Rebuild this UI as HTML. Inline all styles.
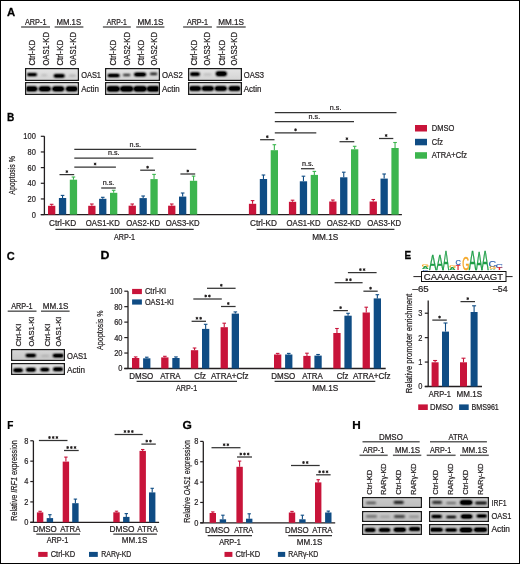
<!DOCTYPE html>
<html><head><meta charset="utf-8"><style>
html,body{margin:0;padding:0;background:#fff;}
svg{display:block;will-change:transform;}
text{font-family:"Liberation Sans",sans-serif;stroke:#231f20;stroke-width:0.22px;}
</style></head><body>
<svg width="520" height="564" viewBox="0 0 520 564">
<defs>
<filter id="bl" x="-50%" y="-100%" width="200%" height="300%"><feGaussianBlur stdDeviation="0.8"/><feComponentTransfer><feFuncA type="linear" slope="1.35"/></feComponentTransfer></filter>
<filter id="bl2" x="-50%" y="-100%" width="200%" height="300%"><feGaussianBlur stdDeviation="0.95"/><feComponentTransfer><feFuncA type="linear" slope="1.6"/></feComponentTransfer></filter>
<linearGradient id="gA" x1="0" y1="0" x2="0" y2="1"><stop offset="0" stop-color="#e4e4e4"/><stop offset="0.5" stop-color="#dcdcdc"/><stop offset="1" stop-color="#d2d2d2"/></linearGradient>
<linearGradient id="gC" x1="0" y1="0" x2="0" y2="1"><stop offset="0" stop-color="#d8d8d8"/><stop offset="0.5" stop-color="#cdcdcd"/><stop offset="1" stop-color="#c6c6c6"/></linearGradient>
<linearGradient id="gH" x1="0" y1="0" x2="0" y2="1"><stop offset="0" stop-color="#cbcbcb"/><stop offset="0.5" stop-color="#c3c3c3"/><stop offset="1" stop-color="#bdbdbd"/></linearGradient>
</defs>
<rect width="520" height="564" fill="#fff"/>
<text transform="translate(7.02,15.50) scale(0.985,1)" font-size="11.5" font-weight="bold" fill="#000" style="stroke:#000;stroke-width:0.25px">A</text>
<text x="24.9" y="24.8" font-size="8.2" textLength="21.6" lengthAdjust="spacingAndGlyphs" fill="#231f20" >ARP-1</text>
<line x1="21.1" y1="27" x2="50" y2="27" stroke="#5e5e5e" stroke-width="1.5" />
<text x="56.5" y="24.8" font-size="8.2" textLength="24.6" lengthAdjust="spacingAndGlyphs" fill="#231f20" >MM.1S</text>
<line x1="54.6" y1="27" x2="83.4" y2="27" stroke="#5e5e5e" stroke-width="1.5" />
<text x="106.7" y="24.8" font-size="8.2" textLength="20.2" lengthAdjust="spacingAndGlyphs" fill="#231f20" >ARP-1</text>
<line x1="102.9" y1="27" x2="130.8" y2="27" stroke="#5e5e5e" stroke-width="1.5" />
<text x="137.5" y="24.8" font-size="8.2" textLength="26" lengthAdjust="spacingAndGlyphs" fill="#231f20" >MM.1S</text>
<line x1="136.2" y1="27" x2="164.4" y2="27" stroke="#5e5e5e" stroke-width="1.5" />
<text x="186.9" y="24.8" font-size="8.2" textLength="21.1" lengthAdjust="spacingAndGlyphs" fill="#231f20" >ARP-1</text>
<line x1="183.1" y1="27" x2="211.9" y2="27" stroke="#5e5e5e" stroke-width="1.5" />
<text x="218.2" y="24.8" font-size="8.2" textLength="25.8" lengthAdjust="spacingAndGlyphs" fill="#231f20" >MM.1S</text>
<line x1="216.5" y1="27" x2="245.7" y2="27" stroke="#5e5e5e" stroke-width="1.5" />
<text transform="translate(35.2,65.6) rotate(-90)" font-size="8.5" textLength="25.7" lengthAdjust="spacingAndGlyphs" fill="#231f20" >Ctrl-KD</text>
<text transform="translate(48.7,65.6) rotate(-90)" font-size="8.5" textLength="33.6" lengthAdjust="spacingAndGlyphs" fill="#231f20" >OAS1-KD</text>
<text transform="translate(62.9,65.6) rotate(-90)" font-size="8.5" textLength="25.7" lengthAdjust="spacingAndGlyphs" fill="#231f20" >Ctrl-KD</text>
<text transform="translate(76.1,65.6) rotate(-90)" font-size="8.5" textLength="33.6" lengthAdjust="spacingAndGlyphs" fill="#231f20" >OAS1-KD</text>
<text transform="translate(116.2,65.6) rotate(-90)" font-size="8.5" textLength="25.7" lengthAdjust="spacingAndGlyphs" fill="#231f20" >Ctrl-KD</text>
<text transform="translate(129.6,65.6) rotate(-90)" font-size="8.5" textLength="33.6" lengthAdjust="spacingAndGlyphs" fill="#231f20" >OAS2-KD</text>
<text transform="translate(144.3,65.6) rotate(-90)" font-size="8.5" textLength="25.7" lengthAdjust="spacingAndGlyphs" fill="#231f20" >Ctrl-KD</text>
<text transform="translate(156.9,65.6) rotate(-90)" font-size="8.5" textLength="33.6" lengthAdjust="spacingAndGlyphs" fill="#231f20" >OAS2-KD</text>
<text transform="translate(196.8,65.6) rotate(-90)" font-size="8.5" textLength="25.7" lengthAdjust="spacingAndGlyphs" fill="#231f20" >Ctrl-KD</text>
<text transform="translate(210,65.6) rotate(-90)" font-size="8.5" textLength="33.6" lengthAdjust="spacingAndGlyphs" fill="#231f20" >OAS3-KD</text>
<text transform="translate(224.9,65.6) rotate(-90)" font-size="8.5" textLength="25.7" lengthAdjust="spacingAndGlyphs" fill="#231f20" >Ctrl-KD</text>
<text transform="translate(237,65.6) rotate(-90)" font-size="8.5" textLength="33.6" lengthAdjust="spacingAndGlyphs" fill="#231f20" >OAS3-KD</text>
<clipPath id="c25"><rect x="25" y="68" width="54" height="13"/></clipPath>
<rect x="25" y="68" width="54" height="13" fill="url(#gA)"/>
<g clip-path="url(#c25)">
<rect x="27" y="73.3" width="10" height="2.6" rx="1.3" ry="1.3" fill="#000" fill-opacity="1.0" filter="url(#bl)"/>
<rect x="41.2" y="74.4" width="6" height="1.6" rx="0.8" ry="0.8" fill="#000" fill-opacity="0.15" filter="url(#bl)"/>
<rect x="53.7" y="74.2" width="11" height="3.2" rx="1.6" ry="1.6" fill="#000" fill-opacity="1.0" filter="url(#bl)"/>
<rect x="68.9" y="74.7" width="7" height="1.8" rx="0.9" ry="0.9" fill="#000" fill-opacity="0.18" filter="url(#bl)"/>
</g>
<rect x="26.65" y="69.65" width="50.7" height="9.7" fill="none" stroke="#fff" stroke-opacity="0.55" stroke-width="0.8"/>
<rect x="25.62" y="68.62" width="52.75" height="11.75" fill="none" stroke="#1a1a1a" stroke-width="1.25"/>
<clipPath id="c35"><rect x="25" y="82" width="54" height="13"/></clipPath>
<rect x="25" y="82" width="54" height="13" fill="url(#gA)"/>
<g clip-path="url(#c35)">
<rect x="25.4" y="86.5" width="12" height="4.8" rx="2.4" ry="2.4" fill="#000" fill-opacity="1.0" filter="url(#bl)"/>
<rect x="38.8" y="86.5" width="12" height="4.8" rx="2.4" ry="2.4" fill="#000" fill-opacity="1.0" filter="url(#bl)"/>
<rect x="52.2" y="86.5" width="12" height="4.8" rx="2.4" ry="2.4" fill="#000" fill-opacity="1.0" filter="url(#bl)"/>
<rect x="65.8" y="86.5" width="12" height="4.8" rx="2.4" ry="2.4" fill="#000" fill-opacity="1.0" filter="url(#bl)"/>
</g>
<rect x="26.65" y="83.65" width="50.7" height="9.7" fill="none" stroke="#fff" stroke-opacity="0.55" stroke-width="0.8"/>
<rect x="25.62" y="82.62" width="52.75" height="11.75" fill="none" stroke="#1a1a1a" stroke-width="1.25"/>
<text x="81.2" y="77.9" font-size="8.5" textLength="19.8" lengthAdjust="spacingAndGlyphs" fill="#231f20" >OAS1</text>
<text x="81.3" y="91.6" font-size="8.5" textLength="17.7" lengthAdjust="spacingAndGlyphs" fill="#231f20" >Actin</text>
<clipPath id="c47"><rect x="105" y="68" width="55" height="13"/></clipPath>
<rect x="105" y="68" width="55" height="13" fill="url(#gA)"/>
<g clip-path="url(#c47)">
<rect x="107.6" y="73.9" width="12" height="3" rx="1.5" ry="1.5" fill="#000" fill-opacity="1.0" filter="url(#bl)"/>
<rect x="123" y="73.9" width="7.4" height="2" rx="1" ry="1" fill="#000" fill-opacity="0.7" filter="url(#bl)"/>
<rect x="134.1" y="72.7" width="12" height="3.6" rx="1.8" ry="1.8" fill="#000" fill-opacity="1.0" filter="url(#bl)"/>
<rect x="149.9" y="72.8" width="7.4" height="2.2" rx="1.1" ry="1.1" fill="#000" fill-opacity="0.75" filter="url(#bl)"/>
</g>
<rect x="106.65" y="69.65" width="51.7" height="9.7" fill="none" stroke="#fff" stroke-opacity="0.55" stroke-width="0.8"/>
<rect x="105.62" y="68.62" width="53.75" height="11.75" fill="none" stroke="#1a1a1a" stroke-width="1.25"/>
<clipPath id="c57"><rect x="105" y="82" width="55" height="13"/></clipPath>
<rect x="105" y="82" width="55" height="13" fill="url(#gA)"/>
<g clip-path="url(#c57)">
<rect x="106.7" y="86.2" width="13" height="5.2" rx="2.6" ry="2.6" fill="#000" fill-opacity="1.0" filter="url(#bl)"/>
<rect x="120.2" y="86.2" width="13" height="5.2" rx="2.6" ry="2.6" fill="#000" fill-opacity="1.0" filter="url(#bl)"/>
<rect x="133.6" y="86.2" width="13" height="5.2" rx="2.6" ry="2.6" fill="#000" fill-opacity="1.0" filter="url(#bl)"/>
<rect x="146.9" y="86.2" width="13" height="5.2" rx="2.6" ry="2.6" fill="#000" fill-opacity="1.0" filter="url(#bl)"/>
</g>
<rect x="106.65" y="83.65" width="51.7" height="9.7" fill="none" stroke="#fff" stroke-opacity="0.55" stroke-width="0.8"/>
<rect x="105.62" y="82.62" width="53.75" height="11.75" fill="none" stroke="#1a1a1a" stroke-width="1.25"/>
<text x="162" y="77.9" font-size="8.5" textLength="20.7" lengthAdjust="spacingAndGlyphs" fill="#231f20" >OAS2</text>
<text x="162" y="91.6" font-size="8.5" textLength="17.7" lengthAdjust="spacingAndGlyphs" fill="#231f20" >Actin</text>
<clipPath id="c69"><rect x="188" y="68" width="54" height="13"/></clipPath>
<rect x="188" y="68" width="54" height="13" fill="url(#gA)"/>
<g clip-path="url(#c69)">
<rect x="189.9" y="72.4" width="10" height="3.4" rx="1.7" ry="1.7" fill="#000" fill-opacity="1.0" filter="url(#bl)"/>
<rect x="203.5" y="73.5" width="8" height="2" rx="1" ry="1" fill="#000" fill-opacity="0.12" filter="url(#bl)"/>
<rect x="215.8" y="71.5" width="11" height="4.4" rx="2.2" ry="2.2" fill="#000" fill-opacity="1.0" filter="url(#bl)"/>
</g>
<rect x="189.65" y="69.65" width="50.7" height="9.7" fill="none" stroke="#fff" stroke-opacity="0.55" stroke-width="0.8"/>
<rect x="188.62" y="68.62" width="52.75" height="11.75" fill="none" stroke="#1a1a1a" stroke-width="1.25"/>
<clipPath id="c78"><rect x="188" y="82" width="54" height="13"/></clipPath>
<rect x="188" y="82" width="54" height="13" fill="url(#gA)"/>
<g clip-path="url(#c78)">
<rect x="189" y="86.3" width="12" height="4.4" rx="2.2" ry="2.2" fill="#000" fill-opacity="1.0" filter="url(#bl)"/>
<rect x="201.8" y="86.3" width="12" height="4.4" rx="2.2" ry="2.2" fill="#000" fill-opacity="1.0" filter="url(#bl)"/>
<rect x="214.8" y="86.3" width="12" height="4.4" rx="2.2" ry="2.2" fill="#000" fill-opacity="1.0" filter="url(#bl)"/>
<rect x="228.6" y="86.3" width="12" height="4.4" rx="2.2" ry="2.2" fill="#000" fill-opacity="1.0" filter="url(#bl)"/>
</g>
<rect x="189.65" y="83.65" width="50.7" height="9.7" fill="none" stroke="#fff" stroke-opacity="0.55" stroke-width="0.8"/>
<rect x="188.62" y="82.62" width="52.75" height="11.75" fill="none" stroke="#1a1a1a" stroke-width="1.25"/>
<text x="243.8" y="77.9" font-size="8.5" textLength="20.3" lengthAdjust="spacingAndGlyphs" fill="#231f20" >OAS3</text>
<text x="243.8" y="91.6" font-size="8.5" textLength="17.7" lengthAdjust="spacingAndGlyphs" fill="#231f20" >Actin</text>
<text transform="translate(7.02,120.90) scale(0.884,1)" font-size="11.5" font-weight="bold" fill="#000" style="stroke:#000;stroke-width:0.25px">B</text>
<line x1="44.4" y1="136.2" x2="44.4" y2="214.6" stroke="#231f20" stroke-width="1.3" />
<line x1="40.8" y1="214.6" x2="401.9" y2="214.6" stroke="#231f20" stroke-width="1.3" />
<line x1="40.8" y1="214.6" x2="44.4" y2="214.6" stroke="#231f20" stroke-width="1.2" />
<text x="35.8" y="217.55" font-size="8.7" text-anchor="end" textLength="4.15" lengthAdjust="spacingAndGlyphs" fill="#231f20" >0</text>
<line x1="40.8" y1="198.94" x2="44.4" y2="198.94" stroke="#231f20" stroke-width="1.2" />
<text x="35.8" y="201.89" font-size="8.7" text-anchor="end" textLength="8.3" lengthAdjust="spacingAndGlyphs" fill="#231f20" >20</text>
<line x1="40.8" y1="183.28" x2="44.4" y2="183.28" stroke="#231f20" stroke-width="1.2" />
<text x="35.8" y="186.23" font-size="8.7" text-anchor="end" textLength="8.3" lengthAdjust="spacingAndGlyphs" fill="#231f20" >40</text>
<line x1="40.8" y1="167.62" x2="44.4" y2="167.62" stroke="#231f20" stroke-width="1.2" />
<text x="35.8" y="170.57" font-size="8.7" text-anchor="end" textLength="8.3" lengthAdjust="spacingAndGlyphs" fill="#231f20" >60</text>
<line x1="40.8" y1="151.96" x2="44.4" y2="151.96" stroke="#231f20" stroke-width="1.2" />
<text x="35.8" y="154.91" font-size="8.7" text-anchor="end" textLength="8.3" lengthAdjust="spacingAndGlyphs" fill="#231f20" >80</text>
<line x1="40.8" y1="136.3" x2="44.4" y2="136.3" stroke="#231f20" stroke-width="1.2" />
<text x="35.8" y="139.25" font-size="8.7" text-anchor="end" textLength="12.45" lengthAdjust="spacingAndGlyphs" fill="#231f20" >100</text>
<text transform="translate(14.85,194.7) rotate(-90)" font-size="9.6" textLength="38.5" lengthAdjust="spacingAndGlyphs" fill="#231f20" >Apoptosis %</text>
<rect x="48" y="205.8" width="7.3" height="8.8" fill="#c8143a" />
<line x1="51.65" y1="204.3" x2="51.65" y2="205.8" stroke="#c8143a" stroke-width="1.1" />
<line x1="49.85" y1="204.3" x2="53.45" y2="204.3" stroke="#c8143a" stroke-width="1.1" />
<rect x="58.9" y="198" width="7.3" height="16.6" fill="#0f4c84" />
<line x1="62.55" y1="195.4" x2="62.55" y2="198" stroke="#0f4c84" stroke-width="1.1" />
<line x1="60.75" y1="195.4" x2="64.35" y2="195.4" stroke="#0f4c84" stroke-width="1.1" />
<rect x="69.8" y="179.7" width="7.3" height="34.9" fill="#3cb54e" />
<line x1="73.45" y1="177" x2="73.45" y2="179.7" stroke="#3cb54e" stroke-width="1.1" />
<line x1="71.65" y1="177" x2="75.25" y2="177" stroke="#3cb54e" stroke-width="1.1" />
<rect x="88.2" y="205.8" width="7.3" height="8.8" fill="#c8143a" />
<line x1="91.85" y1="204" x2="91.85" y2="205.8" stroke="#c8143a" stroke-width="1.1" />
<line x1="90.05" y1="204" x2="93.65" y2="204" stroke="#c8143a" stroke-width="1.1" />
<rect x="99.1" y="198.8" width="7.3" height="15.8" fill="#0f4c84" />
<line x1="102.75" y1="197.3" x2="102.75" y2="198.8" stroke="#0f4c84" stroke-width="1.1" />
<line x1="100.95" y1="197.3" x2="104.55" y2="197.3" stroke="#0f4c84" stroke-width="1.1" />
<rect x="110" y="192.8" width="7.3" height="21.8" fill="#3cb54e" />
<line x1="113.65" y1="190.3" x2="113.65" y2="192.8" stroke="#3cb54e" stroke-width="1.1" />
<line x1="111.85" y1="190.3" x2="115.45" y2="190.3" stroke="#3cb54e" stroke-width="1.1" />
<rect x="128.6" y="205.7" width="7.3" height="8.9" fill="#c8143a" />
<line x1="132.25" y1="204" x2="132.25" y2="205.7" stroke="#c8143a" stroke-width="1.1" />
<line x1="130.45" y1="204" x2="134.05" y2="204" stroke="#c8143a" stroke-width="1.1" />
<rect x="139.5" y="198.1" width="7.3" height="16.5" fill="#0f4c84" />
<line x1="143.15" y1="196" x2="143.15" y2="198.1" stroke="#0f4c84" stroke-width="1.1" />
<line x1="141.35" y1="196" x2="144.95" y2="196" stroke="#0f4c84" stroke-width="1.1" />
<rect x="150.4" y="179.1" width="7.3" height="35.5" fill="#3cb54e" />
<line x1="154.05" y1="174.4" x2="154.05" y2="179.1" stroke="#3cb54e" stroke-width="1.1" />
<line x1="152.25" y1="174.4" x2="155.85" y2="174.4" stroke="#3cb54e" stroke-width="1.1" />
<rect x="168.1" y="205.7" width="7.3" height="8.9" fill="#c8143a" />
<line x1="171.75" y1="204" x2="171.75" y2="205.7" stroke="#c8143a" stroke-width="1.1" />
<line x1="169.95" y1="204" x2="173.55" y2="204" stroke="#c8143a" stroke-width="1.1" />
<rect x="179" y="196.6" width="7.3" height="18" fill="#0f4c84" />
<line x1="182.65" y1="193" x2="182.65" y2="196.6" stroke="#0f4c84" stroke-width="1.1" />
<line x1="180.85" y1="193" x2="184.45" y2="193" stroke="#0f4c84" stroke-width="1.1" />
<rect x="189.9" y="180.8" width="7.3" height="33.8" fill="#3cb54e" />
<line x1="193.55" y1="176.1" x2="193.55" y2="180.8" stroke="#3cb54e" stroke-width="1.1" />
<line x1="191.75" y1="176.1" x2="195.35" y2="176.1" stroke="#3cb54e" stroke-width="1.1" />
<rect x="248.9" y="203.8" width="7.3" height="10.8" fill="#c8143a" />
<line x1="252.55" y1="200.6" x2="252.55" y2="203.8" stroke="#c8143a" stroke-width="1.1" />
<line x1="250.75" y1="200.6" x2="254.35" y2="200.6" stroke="#c8143a" stroke-width="1.1" />
<rect x="259.8" y="179" width="7.3" height="35.6" fill="#0f4c84" />
<line x1="263.45" y1="175" x2="263.45" y2="179" stroke="#0f4c84" stroke-width="1.1" />
<line x1="261.65" y1="175" x2="265.25" y2="175" stroke="#0f4c84" stroke-width="1.1" />
<rect x="270.7" y="150.2" width="7.3" height="64.4" fill="#3cb54e" />
<line x1="274.35" y1="144.7" x2="274.35" y2="150.2" stroke="#3cb54e" stroke-width="1.1" />
<line x1="272.55" y1="144.7" x2="276.15" y2="144.7" stroke="#3cb54e" stroke-width="1.1" />
<rect x="288.9" y="201.8" width="7.3" height="12.8" fill="#c8143a" />
<line x1="292.55" y1="200.2" x2="292.55" y2="201.8" stroke="#c8143a" stroke-width="1.1" />
<line x1="290.75" y1="200.2" x2="294.35" y2="200.2" stroke="#c8143a" stroke-width="1.1" />
<rect x="299.8" y="181.3" width="7.3" height="33.3" fill="#0f4c84" />
<line x1="303.45" y1="176.2" x2="303.45" y2="181.3" stroke="#0f4c84" stroke-width="1.1" />
<line x1="301.65" y1="176.2" x2="305.25" y2="176.2" stroke="#0f4c84" stroke-width="1.1" />
<rect x="310.7" y="174.9" width="7.3" height="39.7" fill="#3cb54e" />
<line x1="314.35" y1="171.4" x2="314.35" y2="174.9" stroke="#3cb54e" stroke-width="1.1" />
<line x1="312.55" y1="171.4" x2="316.15" y2="171.4" stroke="#3cb54e" stroke-width="1.1" />
<rect x="329.2" y="201.5" width="7.3" height="13.1" fill="#c8143a" />
<line x1="332.85" y1="200" x2="332.85" y2="201.5" stroke="#c8143a" stroke-width="1.1" />
<line x1="331.05" y1="200" x2="334.65" y2="200" stroke="#c8143a" stroke-width="1.1" />
<rect x="340.1" y="177.3" width="7.3" height="37.3" fill="#0f4c84" />
<line x1="343.75" y1="172.2" x2="343.75" y2="177.3" stroke="#0f4c84" stroke-width="1.1" />
<line x1="341.95" y1="172.2" x2="345.55" y2="172.2" stroke="#0f4c84" stroke-width="1.1" />
<rect x="351" y="149.3" width="7.3" height="65.3" fill="#3cb54e" />
<line x1="354.65" y1="146.3" x2="354.65" y2="149.3" stroke="#3cb54e" stroke-width="1.1" />
<line x1="352.85" y1="146.3" x2="356.45" y2="146.3" stroke="#3cb54e" stroke-width="1.1" />
<rect x="369.6" y="201.5" width="7.3" height="13.1" fill="#c8143a" />
<line x1="373.25" y1="199.5" x2="373.25" y2="201.5" stroke="#c8143a" stroke-width="1.1" />
<line x1="371.45" y1="199.5" x2="375.05" y2="199.5" stroke="#c8143a" stroke-width="1.1" />
<rect x="380.5" y="178.6" width="7.3" height="36" fill="#0f4c84" />
<line x1="384.15" y1="174" x2="384.15" y2="178.6" stroke="#0f4c84" stroke-width="1.1" />
<line x1="382.35" y1="174" x2="385.95" y2="174" stroke="#0f4c84" stroke-width="1.1" />
<rect x="391.4" y="148" width="7.3" height="66.6" fill="#3cb54e" />
<line x1="395.05" y1="142.5" x2="395.05" y2="148" stroke="#3cb54e" stroke-width="1.1" />
<line x1="393.25" y1="142.5" x2="396.85" y2="142.5" stroke="#3cb54e" stroke-width="1.1" />
<text x="62.6" y="225.9" font-size="8.4" text-anchor="middle" textLength="27" lengthAdjust="spacingAndGlyphs" fill="#231f20" >Ctrl-KD</text>
<text x="102.8" y="225.9" font-size="8.4" text-anchor="middle" textLength="34" lengthAdjust="spacingAndGlyphs" fill="#231f20" >OAS1-KD</text>
<text x="143.2" y="225.9" font-size="8.4" text-anchor="middle" textLength="34" lengthAdjust="spacingAndGlyphs" fill="#231f20" >OAS2-KD</text>
<text x="182.7" y="225.9" font-size="8.4" text-anchor="middle" textLength="34" lengthAdjust="spacingAndGlyphs" fill="#231f20" >OAS3-KD</text>
<text x="263.5" y="225.9" font-size="8.4" text-anchor="middle" textLength="27" lengthAdjust="spacingAndGlyphs" fill="#231f20" >Ctrl-KD</text>
<text x="303.5" y="225.9" font-size="8.4" text-anchor="middle" textLength="34" lengthAdjust="spacingAndGlyphs" fill="#231f20" >OAS1-KD</text>
<text x="343.8" y="225.9" font-size="8.4" text-anchor="middle" textLength="34" lengthAdjust="spacingAndGlyphs" fill="#231f20" >OAS2-KD</text>
<text x="384.2" y="225.9" font-size="8.4" text-anchor="middle" textLength="34" lengthAdjust="spacingAndGlyphs" fill="#231f20" >OAS3-KD</text>
<line x1="55.4" y1="229.3" x2="193.7" y2="229.3" stroke="#333" stroke-width="1.25" />
<line x1="256.6" y1="229.3" x2="394.4" y2="229.3" stroke="#333" stroke-width="1.25" />
<text x="124.5" y="239.8" font-size="8.5" text-anchor="middle" textLength="21.2" lengthAdjust="spacingAndGlyphs" fill="#231f20" >ARP-1</text>
<text x="325.2" y="239.8" font-size="8.5" text-anchor="middle" textLength="26" lengthAdjust="spacingAndGlyphs" fill="#231f20" >MM.1S</text>
<line x1="59.5" y1="174.6" x2="74.2" y2="174.6" stroke="#333" stroke-width="1.25" />
<circle cx="66.85" cy="171.6" r="0.95" fill="#231f20"/><path d="M66.85 170.15L66.85 173.05M68.11 170.88L65.59 172.32M68.11 172.32L65.59 170.88" stroke="#231f20" stroke-width="0.8" fill="none"/>
<line x1="74.3" y1="167" x2="115.9" y2="167" stroke="#333" stroke-width="1.25" />
<circle cx="95.1" cy="164" r="0.95" fill="#231f20"/><path d="M95.1 162.55L95.1 165.45M96.36 163.28L93.84 164.72M96.36 164.72L93.84 163.28" stroke="#231f20" stroke-width="0.8" fill="none"/>
<line x1="74.3" y1="158" x2="153.3" y2="158" stroke="#333" stroke-width="1.25" />
<text x="113.8" y="155.4" font-size="7.4" text-anchor="middle" textLength="11.6" lengthAdjust="spacingAndGlyphs" fill="#231f20" >n.s.</text>
<line x1="74.3" y1="149.3" x2="196.3" y2="149.3" stroke="#333" stroke-width="1.25" />
<text x="135.3" y="146.7" font-size="7.4" text-anchor="middle" textLength="11.6" lengthAdjust="spacingAndGlyphs" fill="#231f20" >n.s.</text>
<line x1="101.2" y1="188" x2="115.8" y2="188" stroke="#333" stroke-width="1.25" />
<text x="108.5" y="185.4" font-size="7.4" text-anchor="middle" textLength="11.6" lengthAdjust="spacingAndGlyphs" fill="#231f20" >n.s.</text>
<line x1="140.2" y1="170.2" x2="155" y2="170.2" stroke="#333" stroke-width="1.25" />
<circle cx="147.6" cy="167.2" r="0.95" fill="#231f20"/><path d="M147.6 165.75L147.6 168.65M148.86 166.47L146.34 167.92M148.86 167.92L146.34 166.47" stroke="#231f20" stroke-width="0.8" fill="none"/>
<line x1="180.4" y1="174" x2="195.2" y2="174" stroke="#333" stroke-width="1.25" />
<circle cx="187.8" cy="171" r="0.95" fill="#231f20"/><path d="M187.8 169.55L187.8 172.45M189.06 170.28L186.54 171.72M189.06 171.72L186.54 170.28" stroke="#231f20" stroke-width="0.8" fill="none"/>
<line x1="260.1" y1="139.7" x2="274.5" y2="139.7" stroke="#333" stroke-width="1.25" />
<circle cx="267.3" cy="136.7" r="0.95" fill="#231f20"/><path d="M267.3 135.25L267.3 138.15M268.56 135.97L266.04 137.42M268.56 137.42L266.04 135.97" stroke="#231f20" stroke-width="0.8" fill="none"/>
<line x1="274.8" y1="132.8" x2="316.3" y2="132.8" stroke="#333" stroke-width="1.25" />
<circle cx="295.55" cy="129.8" r="0.95" fill="#231f20"/><path d="M295.55 128.35L295.55 131.25M296.81 129.08L294.29 130.53M296.81 130.53L294.29 129.08" stroke="#231f20" stroke-width="0.8" fill="none"/>
<line x1="274.8" y1="121.5" x2="354" y2="121.5" stroke="#333" stroke-width="1.25" />
<text x="314.4" y="118.9" font-size="7.4" text-anchor="middle" textLength="11.6" lengthAdjust="spacingAndGlyphs" fill="#231f20" >n.s.</text>
<line x1="274.8" y1="112.7" x2="396.5" y2="112.7" stroke="#333" stroke-width="1.25" />
<text x="335.65" y="110.1" font-size="7.4" text-anchor="middle" textLength="11.6" lengthAdjust="spacingAndGlyphs" fill="#231f20" >n.s.</text>
<line x1="301" y1="168.7" x2="314.4" y2="168.7" stroke="#333" stroke-width="1.25" />
<text x="307.7" y="166.1" font-size="7.4" text-anchor="middle" textLength="11.6" lengthAdjust="spacingAndGlyphs" fill="#231f20" >n.s.</text>
<line x1="339.5" y1="141.7" x2="354.3" y2="141.7" stroke="#333" stroke-width="1.25" />
<circle cx="346.9" cy="138.7" r="0.95" fill="#231f20"/><path d="M346.9 137.25L346.9 140.15M348.16 137.97L345.64 139.42M348.16 139.42L345.64 137.97" stroke="#231f20" stroke-width="0.8" fill="none"/>
<line x1="379" y1="138.5" x2="393.3" y2="138.5" stroke="#333" stroke-width="1.25" />
<circle cx="386.15" cy="135.5" r="0.95" fill="#231f20"/><path d="M386.15 134.05L386.15 136.95M387.41 134.78L384.89 136.22M387.41 136.22L384.89 134.78" stroke="#231f20" stroke-width="0.8" fill="none"/>
<rect x="415" y="125" width="12" height="6.5" fill="#c8143a" />
<text x="431.8" y="131.1" font-size="8.5" textLength="22.5" lengthAdjust="spacingAndGlyphs" fill="#231f20" >DMSO</text>
<rect x="415" y="138.8" width="12" height="6.5" fill="#0f4c84" />
<text x="431.8" y="144.9" font-size="8.5" textLength="11.2" lengthAdjust="spacingAndGlyphs" fill="#231f20" >Cfz</text>
<rect x="415" y="152.2" width="12" height="6.5" fill="#3cb54e" />
<text x="431.8" y="158.3" font-size="8.5" textLength="35.2" lengthAdjust="spacingAndGlyphs" fill="#231f20" >ATRA+Cfz</text>
<text transform="translate(6.65,259.80) scale(0.958,1)" font-size="11.5" font-weight="bold" fill="#000" style="stroke:#000;stroke-width:0.25px">C</text>
<text x="11.2" y="308.8" font-size="8.2" textLength="21.5" lengthAdjust="spacingAndGlyphs" fill="#231f20" >ARP-1</text>
<line x1="7.7" y1="311.2" x2="36.5" y2="311.2" stroke="#5e5e5e" stroke-width="1.5" />
<text x="42.7" y="308.8" font-size="8.2" textLength="25.6" lengthAdjust="spacingAndGlyphs" fill="#231f20" >MM.1S</text>
<line x1="41" y1="311.2" x2="69.6" y2="311.2" stroke="#5e5e5e" stroke-width="1.5" />
<text transform="translate(21,346.6) rotate(-90)" font-size="7.2" textLength="23.1" lengthAdjust="spacingAndGlyphs" fill="#231f20" >Ctrl-KI</text>
<text transform="translate(34.2,346.6) rotate(-90)" font-size="7.2" textLength="30" lengthAdjust="spacingAndGlyphs" fill="#231f20" >OAS1-KI</text>
<text transform="translate(49.8,346.6) rotate(-90)" font-size="7.2" textLength="23.1" lengthAdjust="spacingAndGlyphs" fill="#231f20" >Ctrl-KI</text>
<text transform="translate(61.3,346.6) rotate(-90)" font-size="7.2" textLength="30" lengthAdjust="spacingAndGlyphs" fill="#231f20" >OAS1-KI</text>
<clipPath id="c233"><rect x="11" y="349" width="54" height="12"/></clipPath>
<rect x="11" y="349" width="54" height="12" fill="url(#gC)"/>
<g clip-path="url(#c233)">
<rect x="25.7" y="354.1" width="10.2" height="2.8" rx="1.4" ry="1.4" fill="#000" fill-opacity="1.0" filter="url(#bl)"/>
<rect x="41.2" y="354.9" width="8" height="1.8" rx="0.9" ry="0.9" fill="#000" fill-opacity="0.12" filter="url(#bl)"/>
<rect x="52.8" y="354" width="11" height="3.2" rx="1.6" ry="1.6" fill="#000" fill-opacity="1.0" filter="url(#bl)"/>
</g>
<rect x="12.65" y="350.65" width="50.7" height="8.7" fill="none" stroke="#fff" stroke-opacity="0.55" stroke-width="0.8"/>
<rect x="11.62" y="349.62" width="52.75" height="10.75" fill="none" stroke="#1a1a1a" stroke-width="1.25"/>
<clipPath id="c242"><rect x="11" y="363" width="54" height="12"/></clipPath>
<rect x="11" y="363" width="54" height="12" fill="url(#gA)"/>
<g clip-path="url(#c242)">
<rect x="13.25" y="368.6" width="9.5" height="3.4" rx="1.7" ry="1.7" fill="#000" fill-opacity="1.0" filter="url(#bl)"/>
<rect x="26" y="368.1" width="9.8" height="3.4" rx="1.7" ry="1.7" fill="#000" fill-opacity="1.0" filter="url(#bl)"/>
<rect x="40.3" y="367.9" width="9" height="3.4" rx="1.7" ry="1.7" fill="#000" fill-opacity="1.0" filter="url(#bl)"/>
<rect x="53" y="367.6" width="10" height="3.4" rx="1.7" ry="1.7" fill="#000" fill-opacity="1.0" filter="url(#bl)"/>
</g>
<rect x="12.65" y="364.65" width="50.7" height="8.7" fill="none" stroke="#fff" stroke-opacity="0.55" stroke-width="0.8"/>
<rect x="11.62" y="363.62" width="52.75" height="10.75" fill="none" stroke="#1a1a1a" stroke-width="1.25"/>
<text x="67" y="358.7" font-size="8.5" textLength="20.3" lengthAdjust="spacingAndGlyphs" fill="#231f20" >OAS1</text>
<text x="67" y="372.6" font-size="8.5" textLength="18" lengthAdjust="spacingAndGlyphs" fill="#231f20" >Actin</text>
<text transform="translate(100.47,259.10) scale(1.078,1)" font-size="11.5" font-weight="bold" fill="#000" style="stroke:#000;stroke-width:0.25px">D</text>
<line x1="128" y1="291.2" x2="128" y2="368.5" stroke="#231f20" stroke-width="1.3" />
<line x1="124.3" y1="368.5" x2="385.7" y2="368.5" stroke="#231f20" stroke-width="1.3" />
<line x1="124.3" y1="368.5" x2="128" y2="368.5" stroke="#231f20" stroke-width="1.2" />
<text x="122.5" y="371.45" font-size="8.7" text-anchor="end" textLength="4.15" lengthAdjust="spacingAndGlyphs" fill="#231f20" >0</text>
<line x1="124.3" y1="353.04" x2="128" y2="353.04" stroke="#231f20" stroke-width="1.2" />
<text x="122.5" y="355.99" font-size="8.7" text-anchor="end" textLength="8.3" lengthAdjust="spacingAndGlyphs" fill="#231f20" >20</text>
<line x1="124.3" y1="337.58" x2="128" y2="337.58" stroke="#231f20" stroke-width="1.2" />
<text x="122.5" y="340.53" font-size="8.7" text-anchor="end" textLength="8.3" lengthAdjust="spacingAndGlyphs" fill="#231f20" >40</text>
<line x1="124.3" y1="322.12" x2="128" y2="322.12" stroke="#231f20" stroke-width="1.2" />
<text x="122.5" y="325.07" font-size="8.7" text-anchor="end" textLength="8.3" lengthAdjust="spacingAndGlyphs" fill="#231f20" >60</text>
<line x1="124.3" y1="306.66" x2="128" y2="306.66" stroke="#231f20" stroke-width="1.2" />
<text x="122.5" y="309.61" font-size="8.7" text-anchor="end" textLength="8.3" lengthAdjust="spacingAndGlyphs" fill="#231f20" >80</text>
<line x1="124.3" y1="291.2" x2="128" y2="291.2" stroke="#231f20" stroke-width="1.2" />
<text x="122.5" y="294.15" font-size="8.7" text-anchor="end" textLength="12.45" lengthAdjust="spacingAndGlyphs" fill="#231f20" >100</text>
<text transform="translate(102.6,349.9) rotate(-90)" font-size="9.6" textLength="39.5" lengthAdjust="spacingAndGlyphs" fill="#231f20" >Apoptosis %</text>
<rect x="132" y="358" width="7.3" height="10.5" fill="#c8143a" />
<line x1="135.65" y1="356.9" x2="135.65" y2="358" stroke="#c8143a" stroke-width="1.1" />
<line x1="133.85" y1="356.9" x2="137.45" y2="356.9" stroke="#c8143a" stroke-width="1.1" />
<rect x="143.1" y="358.3" width="7.3" height="10.2" fill="#0f4c84" />
<line x1="146.75" y1="357.2" x2="146.75" y2="358.3" stroke="#0f4c84" stroke-width="1.1" />
<line x1="144.95" y1="357.2" x2="148.55" y2="357.2" stroke="#0f4c84" stroke-width="1.1" />
<rect x="161.2" y="357.4" width="7.3" height="11.1" fill="#c8143a" />
<line x1="164.85" y1="356.3" x2="164.85" y2="357.4" stroke="#c8143a" stroke-width="1.1" />
<line x1="163.05" y1="356.3" x2="166.65" y2="356.3" stroke="#c8143a" stroke-width="1.1" />
<rect x="172.3" y="358" width="7.3" height="10.5" fill="#0f4c84" />
<line x1="175.95" y1="356.9" x2="175.95" y2="358" stroke="#0f4c84" stroke-width="1.1" />
<line x1="174.15" y1="356.9" x2="177.75" y2="356.9" stroke="#0f4c84" stroke-width="1.1" />
<rect x="190.9" y="350.2" width="7.3" height="18.3" fill="#c8143a" />
<line x1="194.55" y1="348" x2="194.55" y2="350.2" stroke="#c8143a" stroke-width="1.1" />
<line x1="192.75" y1="348" x2="196.35" y2="348" stroke="#c8143a" stroke-width="1.1" />
<rect x="202" y="328.9" width="7.3" height="39.6" fill="#0f4c84" />
<line x1="205.65" y1="324.3" x2="205.65" y2="328.9" stroke="#0f4c84" stroke-width="1.1" />
<line x1="203.85" y1="324.3" x2="207.45" y2="324.3" stroke="#0f4c84" stroke-width="1.1" />
<rect x="220.6" y="327.2" width="7.3" height="41.3" fill="#c8143a" />
<line x1="224.25" y1="323.2" x2="224.25" y2="327.2" stroke="#c8143a" stroke-width="1.1" />
<line x1="222.45" y1="323.2" x2="226.05" y2="323.2" stroke="#c8143a" stroke-width="1.1" />
<rect x="231.7" y="313.6" width="7.3" height="54.9" fill="#0f4c84" />
<line x1="235.35" y1="311.9" x2="235.35" y2="313.6" stroke="#0f4c84" stroke-width="1.1" />
<line x1="233.55" y1="311.9" x2="237.15" y2="311.9" stroke="#0f4c84" stroke-width="1.1" />
<rect x="274" y="354.5" width="7.3" height="14" fill="#c8143a" />
<line x1="277.65" y1="353.4" x2="277.65" y2="354.5" stroke="#c8143a" stroke-width="1.1" />
<line x1="275.85" y1="353.4" x2="279.45" y2="353.4" stroke="#c8143a" stroke-width="1.1" />
<rect x="285.1" y="354.5" width="7.3" height="14" fill="#0f4c84" />
<line x1="288.75" y1="353.4" x2="288.75" y2="354.5" stroke="#0f4c84" stroke-width="1.1" />
<line x1="286.95" y1="353.4" x2="290.55" y2="353.4" stroke="#0f4c84" stroke-width="1.1" />
<rect x="303.3" y="355.9" width="7.3" height="12.6" fill="#c8143a" />
<line x1="306.95" y1="353.2" x2="306.95" y2="355.9" stroke="#c8143a" stroke-width="1.1" />
<line x1="305.15" y1="353.2" x2="308.75" y2="353.2" stroke="#c8143a" stroke-width="1.1" />
<rect x="314.4" y="355.6" width="7.3" height="12.9" fill="#0f4c84" />
<line x1="318.05" y1="354.5" x2="318.05" y2="355.6" stroke="#0f4c84" stroke-width="1.1" />
<line x1="316.25" y1="354.5" x2="319.85" y2="354.5" stroke="#0f4c84" stroke-width="1.1" />
<rect x="333.3" y="333" width="7.3" height="35.5" fill="#c8143a" />
<line x1="336.95" y1="328.5" x2="336.95" y2="333" stroke="#c8143a" stroke-width="1.1" />
<line x1="335.15" y1="328.5" x2="338.75" y2="328.5" stroke="#c8143a" stroke-width="1.1" />
<rect x="344.4" y="315.7" width="7.3" height="52.8" fill="#0f4c84" />
<line x1="348.05" y1="313.3" x2="348.05" y2="315.7" stroke="#0f4c84" stroke-width="1.1" />
<line x1="346.25" y1="313.3" x2="349.85" y2="313.3" stroke="#0f4c84" stroke-width="1.1" />
<rect x="362.6" y="312.5" width="7.3" height="56" fill="#c8143a" />
<line x1="366.25" y1="307.2" x2="366.25" y2="312.5" stroke="#c8143a" stroke-width="1.1" />
<line x1="364.45" y1="307.2" x2="368.05" y2="307.2" stroke="#c8143a" stroke-width="1.1" />
<rect x="373.7" y="298.4" width="7.3" height="70.1" fill="#0f4c84" />
<line x1="377.35" y1="294.7" x2="377.35" y2="298.4" stroke="#0f4c84" stroke-width="1.1" />
<line x1="375.55" y1="294.7" x2="379.15" y2="294.7" stroke="#0f4c84" stroke-width="1.1" />
<text x="141.2" y="379.2" font-size="8.4" text-anchor="middle" textLength="24" lengthAdjust="spacingAndGlyphs" fill="#231f20" >DMSO</text>
<text x="170.4" y="379.2" font-size="8.4" text-anchor="middle" textLength="20.5" lengthAdjust="spacingAndGlyphs" fill="#231f20" >ATRA</text>
<text x="200.1" y="379.2" font-size="8.4" text-anchor="middle" textLength="11.7" lengthAdjust="spacingAndGlyphs" fill="#231f20" >Cfz</text>
<text x="229.8" y="379.2" font-size="8.4" text-anchor="middle" textLength="37.7" lengthAdjust="spacingAndGlyphs" fill="#231f20" >ATRA+Cfz</text>
<text x="283.2" y="379.2" font-size="8.4" text-anchor="middle" textLength="24" lengthAdjust="spacingAndGlyphs" fill="#231f20" >DMSO</text>
<text x="312.5" y="379.2" font-size="8.4" text-anchor="middle" textLength="20.5" lengthAdjust="spacingAndGlyphs" fill="#231f20" >ATRA</text>
<text x="342.5" y="379.2" font-size="8.4" text-anchor="middle" textLength="11.7" lengthAdjust="spacingAndGlyphs" fill="#231f20" >Cfz</text>
<text x="371.8" y="379.2" font-size="8.4" text-anchor="middle" textLength="37.7" lengthAdjust="spacingAndGlyphs" fill="#231f20" >ATRA+Cfz</text>
<line x1="136.6" y1="381.3" x2="237" y2="381.3" stroke="#333" stroke-width="1.25" />
<line x1="274.6" y1="381.3" x2="375.3" y2="381.3" stroke="#333" stroke-width="1.25" />
<text x="186.6" y="391" font-size="8.5" text-anchor="middle" textLength="21.2" lengthAdjust="spacingAndGlyphs" fill="#231f20" >ARP-1</text>
<text x="325.2" y="391" font-size="8.5" text-anchor="middle" textLength="26" lengthAdjust="spacingAndGlyphs" fill="#231f20" >MM.1S</text>
<line x1="191.6" y1="321.3" x2="206" y2="321.3" stroke="#333" stroke-width="1.25" />
<circle cx="196.95" cy="318.3" r="0.95" fill="#231f20"/><path d="M196.95 316.85L196.95 319.75M198.21 317.57L195.69 319.03M198.21 319.03L195.69 317.57" stroke="#231f20" stroke-width="0.8" fill="none"/>
<circle cx="200.65" cy="318.3" r="0.95" fill="#231f20"/><path d="M200.65 316.85L200.65 319.75M201.91 317.57L199.39 319.03M201.91 319.03L199.39 317.57" stroke="#231f20" stroke-width="0.8" fill="none"/>
<line x1="193.3" y1="299" x2="221.8" y2="299" stroke="#333" stroke-width="1.25" />
<circle cx="205.7" cy="296" r="0.95" fill="#231f20"/><path d="M205.7 294.55L205.7 297.45M206.96 295.27L204.44 296.73M206.96 296.73L204.44 295.27" stroke="#231f20" stroke-width="0.8" fill="none"/>
<circle cx="209.4" cy="296" r="0.95" fill="#231f20"/><path d="M209.4 294.55L209.4 297.45M210.66 295.27L208.14 296.73M210.66 296.73L208.14 295.27" stroke="#231f20" stroke-width="0.8" fill="none"/>
<line x1="207" y1="288.3" x2="235.6" y2="288.3" stroke="#333" stroke-width="1.25" />
<circle cx="221.3" cy="285.3" r="0.95" fill="#231f20"/><path d="M221.3 283.85L221.3 286.75M222.56 284.57L220.04 286.03M222.56 286.03L220.04 284.57" stroke="#231f20" stroke-width="0.8" fill="none"/>
<line x1="221" y1="306.5" x2="235.6" y2="306.5" stroke="#333" stroke-width="1.25" />
<circle cx="228.3" cy="303.5" r="0.95" fill="#231f20"/><path d="M228.3 302.05L228.3 304.95M229.56 302.77L227.04 304.23M229.56 304.23L227.04 302.77" stroke="#231f20" stroke-width="0.8" fill="none"/>
<line x1="333.3" y1="310.6" x2="347.9" y2="310.6" stroke="#333" stroke-width="1.25" />
<circle cx="340.6" cy="307.6" r="0.95" fill="#231f20"/><path d="M340.6 306.15L340.6 309.05M341.86 306.88L339.34 308.33M341.86 308.33L339.34 306.88" stroke="#231f20" stroke-width="0.8" fill="none"/>
<line x1="334.6" y1="282.7" x2="362.6" y2="282.7" stroke="#333" stroke-width="1.25" />
<circle cx="346.75" cy="279.7" r="0.95" fill="#231f20"/><path d="M346.75 278.25L346.75 281.15M348.01 278.97L345.49 280.43M348.01 280.43L345.49 278.97" stroke="#231f20" stroke-width="0.8" fill="none"/>
<circle cx="350.45" cy="279.7" r="0.95" fill="#231f20"/><path d="M350.45 278.25L350.45 281.15M351.71 278.97L349.19 280.43M351.71 280.43L349.19 278.97" stroke="#231f20" stroke-width="0.8" fill="none"/>
<line x1="347.9" y1="272.6" x2="376.6" y2="272.6" stroke="#333" stroke-width="1.25" />
<circle cx="360.4" cy="269.6" r="0.95" fill="#231f20"/><path d="M360.4 268.15L360.4 271.05M361.66 268.88L359.14 270.33M361.66 270.33L359.14 268.88" stroke="#231f20" stroke-width="0.8" fill="none"/>
<circle cx="364.1" cy="269.6" r="0.95" fill="#231f20"/><path d="M364.1 268.15L364.1 271.05M365.36 268.88L362.84 270.33M365.36 270.33L362.84 268.88" stroke="#231f20" stroke-width="0.8" fill="none"/>
<line x1="363.4" y1="291.2" x2="377.7" y2="291.2" stroke="#333" stroke-width="1.25" />
<circle cx="370.55" cy="288.2" r="0.95" fill="#231f20"/><path d="M370.55 286.75L370.55 289.65M371.81 287.47L369.29 288.93M371.81 288.93L369.29 287.47" stroke="#231f20" stroke-width="0.8" fill="none"/>
<rect x="132.1" y="288.9" width="9.8" height="5.2" fill="#c8143a" />
<rect x="132.1" y="299.4" width="9.8" height="5.2" fill="#0f4c84" />
<text x="144.9" y="294.4" font-size="8.5" textLength="21.3" lengthAdjust="spacingAndGlyphs" fill="#231f20" >Ctrl-KI</text>
<text x="144.9" y="304.9" font-size="8.5" textLength="29" lengthAdjust="spacingAndGlyphs" fill="#231f20" >OAS1-KI</text>
<text transform="translate(404.53,259.10) scale(0.868,1)" font-size="11.5" font-weight="bold" fill="#000" style="stroke:#000;stroke-width:0.25px">E</text>
<line x1="428.2" y1="300.5" x2="428.2" y2="386.5" stroke="#231f20" stroke-width="1.3" />
<line x1="424.8" y1="386.5" x2="482" y2="386.5" stroke="#231f20" stroke-width="1.3" />
<line x1="424.8" y1="386.5" x2="428.2" y2="386.5" stroke="#231f20" stroke-width="1.2" />
<text x="422.5" y="389.45" font-size="8.7" text-anchor="end" textLength="4.15" lengthAdjust="spacingAndGlyphs" fill="#231f20" >0</text>
<line x1="424.8" y1="362.07" x2="428.2" y2="362.07" stroke="#231f20" stroke-width="1.2" />
<text x="422.5" y="365.02" font-size="8.7" text-anchor="end" textLength="4.15" lengthAdjust="spacingAndGlyphs" fill="#231f20" >1</text>
<line x1="424.8" y1="337.64" x2="428.2" y2="337.64" stroke="#231f20" stroke-width="1.2" />
<text x="422.5" y="340.59" font-size="8.7" text-anchor="end" textLength="4.15" lengthAdjust="spacingAndGlyphs" fill="#231f20" >2</text>
<line x1="424.8" y1="313.21" x2="428.2" y2="313.21" stroke="#231f20" stroke-width="1.2" />
<text x="422.5" y="316.16" font-size="8.7" text-anchor="end" textLength="4.15" lengthAdjust="spacingAndGlyphs" fill="#231f20" >3</text>
<text transform="translate(412.2,393.3) rotate(-90)" font-size="9.5" textLength="99.6" lengthAdjust="spacingAndGlyphs" fill="#231f20" >Relative promoter enrichment</text>
<rect x="431.6" y="362.3" width="7" height="24.2" fill="#c8143a" />
<line x1="435.1" y1="360.5" x2="435.1" y2="362.3" stroke="#c8143a" stroke-width="1.1" />
<line x1="433.1" y1="360.5" x2="437.1" y2="360.5" stroke="#c8143a" stroke-width="1.1" />
<rect x="442" y="331.6" width="7" height="54.9" fill="#0f4c84" />
<line x1="445.5" y1="323" x2="445.5" y2="331.6" stroke="#0f4c84" stroke-width="1.1" />
<line x1="443.5" y1="323" x2="447.5" y2="323" stroke="#0f4c84" stroke-width="1.1" />
<rect x="460" y="362.3" width="7" height="24.2" fill="#c8143a" />
<line x1="463.5" y1="358.2" x2="463.5" y2="362.3" stroke="#c8143a" stroke-width="1.1" />
<line x1="461.5" y1="358.2" x2="465.5" y2="358.2" stroke="#c8143a" stroke-width="1.1" />
<rect x="470.6" y="312" width="7" height="74.5" fill="#0f4c84" />
<line x1="474.1" y1="305.8" x2="474.1" y2="312" stroke="#0f4c84" stroke-width="1.1" />
<line x1="472.1" y1="305.8" x2="476.1" y2="305.8" stroke="#0f4c84" stroke-width="1.1" />
<line x1="432.3" y1="320.1" x2="446.8" y2="320.1" stroke="#333" stroke-width="1.25" />
<circle cx="439.55" cy="317.1" r="0.95" fill="#231f20"/><path d="M439.55 315.65L439.55 318.55M440.81 316.38L438.29 317.83M440.81 317.83L438.29 316.38" stroke="#231f20" stroke-width="0.8" fill="none"/>
<line x1="460.5" y1="301.6" x2="475" y2="301.6" stroke="#333" stroke-width="1.25" />
<circle cx="467.75" cy="298.6" r="0.95" fill="#231f20"/><path d="M467.75 297.15L467.75 300.05M469.01 297.88L466.49 299.33M469.01 299.33L466.49 297.88" stroke="#231f20" stroke-width="0.8" fill="none"/>
<text x="439.8" y="396.5" font-size="8.5" text-anchor="middle" textLength="22" lengthAdjust="spacingAndGlyphs" fill="#231f20" >ARP-1</text>
<text x="469.3" y="396.5" font-size="8.5" text-anchor="middle" textLength="25.5" lengthAdjust="spacingAndGlyphs" fill="#231f20" >MM.1S</text>
<rect x="418.2" y="404.4" width="9.6" height="5.6" fill="#c8143a" />
<text x="430" y="410.2" font-size="8.5" textLength="23" lengthAdjust="spacingAndGlyphs" fill="#231f20" >DMSO</text>
<rect x="459.1" y="404.4" width="9.6" height="5.6" fill="#0f4c84" />
<text x="471.5" y="410.2" font-size="8.5" textLength="27.3" lengthAdjust="spacingAndGlyphs" fill="#231f20" >BMS961</text>
<line x1="413.4" y1="276.6" x2="421.5" y2="276.6" stroke="#231f20" stroke-width="1" />
<line x1="506" y1="276.6" x2="512.6" y2="276.6" stroke="#231f20" stroke-width="1" />
<rect x="421.5" y="271.5" width="84.5" height="10" fill="#fff" stroke="#111" stroke-width="1"/>
<text x="423.8" y="280.1" font-size="9.6" textLength="79.2" lengthAdjust="spacingAndGlyphs" fill="#231f20" >CAAAAGGAAAGT</text>
<text x="412.5" y="292.4" font-size="9.2" textLength="16.2" lengthAdjust="spacingAndGlyphs" fill="#231f20" >–65</text>
<text x="493" y="292.4" font-size="9.2" textLength="14.6" lengthAdjust="spacingAndGlyphs" fill="#231f20" >–54</text>
<text transform="translate(7.33,428.80) scale(0.874,1)" font-size="11.5" font-weight="bold" fill="#000" style="stroke:#000;stroke-width:0.25px">F</text>
<line x1="33.4" y1="440.8" x2="33.4" y2="522.3" stroke="#231f20" stroke-width="1.3" />
<line x1="30.3" y1="522.3" x2="159.1" y2="522.3" stroke="#231f20" stroke-width="1.3" />
<line x1="30.3" y1="522.3" x2="33.4" y2="522.3" stroke="#231f20" stroke-width="1.2" />
<text x="28.4" y="525.25" font-size="8.7" text-anchor="end" textLength="4.15" lengthAdjust="spacingAndGlyphs" fill="#231f20" >0</text>
<line x1="30.3" y1="501.92" x2="33.4" y2="501.92" stroke="#231f20" stroke-width="1.2" />
<text x="28.4" y="504.87" font-size="8.7" text-anchor="end" textLength="4.15" lengthAdjust="spacingAndGlyphs" fill="#231f20" >2</text>
<line x1="30.3" y1="481.54" x2="33.4" y2="481.54" stroke="#231f20" stroke-width="1.2" />
<text x="28.4" y="484.49" font-size="8.7" text-anchor="end" textLength="4.15" lengthAdjust="spacingAndGlyphs" fill="#231f20" >4</text>
<line x1="30.3" y1="461.16" x2="33.4" y2="461.16" stroke="#231f20" stroke-width="1.2" />
<text x="28.4" y="464.11" font-size="8.7" text-anchor="end" textLength="4.15" lengthAdjust="spacingAndGlyphs" fill="#231f20" >6</text>
<line x1="30.3" y1="440.78" x2="33.4" y2="440.78" stroke="#231f20" stroke-width="1.2" />
<text x="28.4" y="443.73" font-size="8.7" text-anchor="end" textLength="4.15" lengthAdjust="spacingAndGlyphs" fill="#231f20" >8</text>
<text transform="translate(17.3,520.8) rotate(-90)" font-size="9.4" fill="#231f20" textLength="80.6" lengthAdjust="spacingAndGlyphs">Relative <tspan font-style="italic">IRF1</tspan> expression</text>
<rect x="36.9" y="512.4" width="6.4" height="9.9" fill="#c8143a" />
<line x1="40.1" y1="511.3" x2="40.1" y2="512.4" stroke="#c8143a" stroke-width="1.1" />
<line x1="38.4" y1="511.3" x2="41.8" y2="511.3" stroke="#c8143a" stroke-width="1.1" />
<rect x="46.7" y="518.1" width="6.4" height="4.2" fill="#0f4c84" />
<line x1="49.9" y1="514.7" x2="49.9" y2="518.1" stroke="#0f4c84" stroke-width="1.1" />
<line x1="48.2" y1="514.7" x2="51.6" y2="514.7" stroke="#0f4c84" stroke-width="1.1" />
<rect x="62.7" y="461.6" width="6.4" height="60.7" fill="#c8143a" />
<line x1="65.9" y1="457.1" x2="65.9" y2="461.6" stroke="#c8143a" stroke-width="1.1" />
<line x1="64.2" y1="457.1" x2="67.6" y2="457.1" stroke="#c8143a" stroke-width="1.1" />
<rect x="72.2" y="503.2" width="6.4" height="19.1" fill="#0f4c84" />
<line x1="75.4" y1="499.1" x2="75.4" y2="503.2" stroke="#0f4c84" stroke-width="1.1" />
<line x1="73.7" y1="499.1" x2="77.1" y2="499.1" stroke="#0f4c84" stroke-width="1.1" />
<rect x="113.3" y="512.3" width="6.4" height="10" fill="#c8143a" />
<line x1="116.5" y1="511.2" x2="116.5" y2="512.3" stroke="#c8143a" stroke-width="1.1" />
<line x1="114.8" y1="511.2" x2="118.2" y2="511.2" stroke="#c8143a" stroke-width="1.1" />
<rect x="123.1" y="516.9" width="6.4" height="5.4" fill="#0f4c84" />
<line x1="126.3" y1="513.6" x2="126.3" y2="516.9" stroke="#0f4c84" stroke-width="1.1" />
<line x1="124.6" y1="513.6" x2="128" y2="513.6" stroke="#0f4c84" stroke-width="1.1" />
<rect x="139.5" y="450.9" width="6.4" height="71.4" fill="#c8143a" />
<line x1="142.7" y1="449.5" x2="142.7" y2="450.9" stroke="#c8143a" stroke-width="1.1" />
<line x1="141" y1="449.5" x2="144.4" y2="449.5" stroke="#c8143a" stroke-width="1.1" />
<rect x="149" y="492.4" width="6.4" height="29.9" fill="#0f4c84" />
<line x1="152.2" y1="488.3" x2="152.2" y2="492.4" stroke="#0f4c84" stroke-width="1.1" />
<line x1="150.5" y1="488.3" x2="153.9" y2="488.3" stroke="#0f4c84" stroke-width="1.1" />
<text x="44.85" y="532" font-size="8.4" text-anchor="middle" textLength="23.9" lengthAdjust="spacingAndGlyphs" fill="#231f20" >DMSO</text>
<text x="70.35" y="532" font-size="8.4" text-anchor="middle" textLength="20.3" lengthAdjust="spacingAndGlyphs" fill="#231f20" >ATRA</text>
<text x="122" y="532" font-size="8.4" text-anchor="middle" textLength="25" lengthAdjust="spacingAndGlyphs" fill="#231f20" >DMSO</text>
<text x="147.5" y="532" font-size="8.4" text-anchor="middle" textLength="20.4" lengthAdjust="spacingAndGlyphs" fill="#231f20" >ATRA</text>
<line x1="36.3" y1="534" x2="80" y2="534" stroke="#333" stroke-width="1.25" />
<line x1="113.3" y1="534" x2="156.9" y2="534" stroke="#333" stroke-width="1.25" />
<text x="57.5" y="542.7" font-size="8.5" text-anchor="middle" textLength="21.7" lengthAdjust="spacingAndGlyphs" fill="#231f20" >ARP-1</text>
<text x="134.5" y="542.7" font-size="8.5" text-anchor="middle" textLength="25.5" lengthAdjust="spacingAndGlyphs" fill="#231f20" >MM.1S</text>
<line x1="38.9" y1="440.5" x2="67.5" y2="440.5" stroke="#333" stroke-width="1.25" />
<circle cx="49.5" cy="437.5" r="0.95" fill="#231f20"/><path d="M49.5 436.05L49.5 438.95M50.76 436.77L48.24 438.23M50.76 438.23L48.24 436.77" stroke="#231f20" stroke-width="0.8" fill="none"/>
<circle cx="53.2" cy="437.5" r="0.95" fill="#231f20"/><path d="M53.2 436.05L53.2 438.95M54.46 436.77L51.94 438.23M54.46 438.23L51.94 436.77" stroke="#231f20" stroke-width="0.8" fill="none"/>
<circle cx="56.9" cy="437.5" r="0.95" fill="#231f20"/><path d="M56.9 436.05L56.9 438.95M58.16 436.77L55.64 438.23M58.16 438.23L55.64 436.77" stroke="#231f20" stroke-width="0.8" fill="none"/>
<line x1="64" y1="450.5" x2="78.7" y2="450.5" stroke="#333" stroke-width="1.25" />
<circle cx="67.65" cy="447.5" r="0.95" fill="#231f20"/><path d="M67.65 446.05L67.65 448.95M68.91 446.77L66.39 448.23M68.91 448.23L66.39 446.77" stroke="#231f20" stroke-width="0.8" fill="none"/>
<circle cx="71.35" cy="447.5" r="0.95" fill="#231f20"/><path d="M71.35 446.05L71.35 448.95M72.61 446.77L70.09 448.23M72.61 448.23L70.09 446.77" stroke="#231f20" stroke-width="0.8" fill="none"/>
<circle cx="75.05" cy="447.5" r="0.95" fill="#231f20"/><path d="M75.05 446.05L75.05 448.95M76.31 446.77L73.79 448.23M76.31 448.23L73.79 446.77" stroke="#231f20" stroke-width="0.8" fill="none"/>
<line x1="114.6" y1="434.5" x2="142.7" y2="434.5" stroke="#333" stroke-width="1.25" />
<circle cx="124.95" cy="431.5" r="0.95" fill="#231f20"/><path d="M124.95 430.05L124.95 432.95M126.21 430.77L123.69 432.23M126.21 432.23L123.69 430.77" stroke="#231f20" stroke-width="0.8" fill="none"/>
<circle cx="128.65" cy="431.5" r="0.95" fill="#231f20"/><path d="M128.65 430.05L128.65 432.95M129.91 430.77L127.39 432.23M129.91 432.23L127.39 430.77" stroke="#231f20" stroke-width="0.8" fill="none"/>
<circle cx="132.35" cy="431.5" r="0.95" fill="#231f20"/><path d="M132.35 430.05L132.35 432.95M133.61 430.77L131.09 432.23M133.61 432.23L131.09 430.77" stroke="#231f20" stroke-width="0.8" fill="none"/>
<line x1="141.4" y1="444.1" x2="155.8" y2="444.1" stroke="#333" stroke-width="1.25" />
<circle cx="146.75" cy="441.1" r="0.95" fill="#231f20"/><path d="M146.75 439.65L146.75 442.55M148.01 440.38L145.49 441.83M148.01 441.83L145.49 440.38" stroke="#231f20" stroke-width="0.8" fill="none"/>
<circle cx="150.45" cy="441.1" r="0.95" fill="#231f20"/><path d="M150.45 439.65L150.45 442.55M151.71 440.38L149.19 441.83M151.71 441.83L149.19 440.38" stroke="#231f20" stroke-width="0.8" fill="none"/>
<rect x="38.2" y="551.9" width="9.4" height="5" fill="#c8143a" />
<text x="50.7" y="557.1" font-size="8.5" textLength="24.6" lengthAdjust="spacingAndGlyphs" fill="#231f20" >Ctrl-KD</text>
<rect x="89" y="551.9" width="8.8" height="5" fill="#0f4c84" />
<text x="101.3" y="557.1" font-size="8.5" textLength="30" lengthAdjust="spacingAndGlyphs" fill="#231f20" >RARγ-KD</text>
<text transform="translate(182.41,429.00) scale(1.044,1)" font-size="11.5" font-weight="bold" fill="#000" style="stroke:#000;stroke-width:0.25px">G</text>
<line x1="203.3" y1="441.4" x2="203.3" y2="522.8" stroke="#231f20" stroke-width="1.3" />
<line x1="200.2" y1="522.8" x2="335.2" y2="522.8" stroke="#231f20" stroke-width="1.3" />
<line x1="200.2" y1="522.8" x2="203.3" y2="522.8" stroke="#231f20" stroke-width="1.2" />
<text x="198.4" y="525.75" font-size="8.7" text-anchor="end" textLength="4.15" lengthAdjust="spacingAndGlyphs" fill="#231f20" >0</text>
<line x1="200.2" y1="502.45" x2="203.3" y2="502.45" stroke="#231f20" stroke-width="1.2" />
<text x="198.4" y="505.4" font-size="8.7" text-anchor="end" textLength="4.15" lengthAdjust="spacingAndGlyphs" fill="#231f20" >2</text>
<line x1="200.2" y1="482.1" x2="203.3" y2="482.1" stroke="#231f20" stroke-width="1.2" />
<text x="198.4" y="485.05" font-size="8.7" text-anchor="end" textLength="4.15" lengthAdjust="spacingAndGlyphs" fill="#231f20" >4</text>
<line x1="200.2" y1="461.75" x2="203.3" y2="461.75" stroke="#231f20" stroke-width="1.2" />
<text x="198.4" y="464.7" font-size="8.7" text-anchor="end" textLength="4.15" lengthAdjust="spacingAndGlyphs" fill="#231f20" >6</text>
<line x1="200.2" y1="441.4" x2="203.3" y2="441.4" stroke="#231f20" stroke-width="1.2" />
<text x="198.4" y="444.35" font-size="8.7" text-anchor="end" textLength="4.15" lengthAdjust="spacingAndGlyphs" fill="#231f20" >8</text>
<text transform="translate(189.6,522.8) rotate(-90)" font-size="9.1" fill="#231f20" textLength="82.8" lengthAdjust="spacingAndGlyphs">Relative <tspan font-style="italic">OAS1</tspan> expression</text>
<rect x="209.6" y="513" width="6.4" height="9.8" fill="#c8143a" />
<line x1="212.8" y1="511.9" x2="212.8" y2="513" stroke="#c8143a" stroke-width="1.1" />
<line x1="211.1" y1="511.9" x2="214.5" y2="511.9" stroke="#c8143a" stroke-width="1.1" />
<rect x="219.7" y="519.3" width="6.4" height="3.5" fill="#0f4c84" />
<line x1="222.9" y1="515.2" x2="222.9" y2="519.3" stroke="#0f4c84" stroke-width="1.1" />
<line x1="221.2" y1="515.2" x2="224.6" y2="515.2" stroke="#0f4c84" stroke-width="1.1" />
<rect x="236.4" y="466.8" width="6.4" height="56" fill="#c8143a" />
<line x1="239.6" y1="461.1" x2="239.6" y2="466.8" stroke="#c8143a" stroke-width="1.1" />
<line x1="237.9" y1="461.1" x2="241.3" y2="461.1" stroke="#c8143a" stroke-width="1.1" />
<rect x="246" y="518.7" width="6.4" height="4.1" fill="#0f4c84" />
<line x1="249.2" y1="513.8" x2="249.2" y2="518.7" stroke="#0f4c84" stroke-width="1.1" />
<line x1="247.5" y1="513.8" x2="250.9" y2="513.8" stroke="#0f4c84" stroke-width="1.1" />
<rect x="288.8" y="512.5" width="6.4" height="10.3" fill="#c8143a" />
<line x1="292" y1="511.4" x2="292" y2="512.5" stroke="#c8143a" stroke-width="1.1" />
<line x1="290.3" y1="511.4" x2="293.7" y2="511.4" stroke="#c8143a" stroke-width="1.1" />
<rect x="299.2" y="519.3" width="6.4" height="3.5" fill="#0f4c84" />
<line x1="302.4" y1="515.2" x2="302.4" y2="519.3" stroke="#0f4c84" stroke-width="1.1" />
<line x1="300.7" y1="515.2" x2="304.1" y2="515.2" stroke="#0f4c84" stroke-width="1.1" />
<rect x="315" y="482.4" width="6.4" height="40.4" fill="#c8143a" />
<line x1="318.2" y1="479.7" x2="318.2" y2="482.4" stroke="#c8143a" stroke-width="1.1" />
<line x1="316.5" y1="479.7" x2="319.9" y2="479.7" stroke="#c8143a" stroke-width="1.1" />
<rect x="325.1" y="512.5" width="6.4" height="10.3" fill="#0f4c84" />
<line x1="328.3" y1="511.1" x2="328.3" y2="512.5" stroke="#0f4c84" stroke-width="1.1" />
<line x1="326.6" y1="511.1" x2="330" y2="511.1" stroke="#0f4c84" stroke-width="1.1" />
<text x="217.3" y="532.8" font-size="8.4" text-anchor="middle" textLength="24.6" lengthAdjust="spacingAndGlyphs" fill="#231f20" >DMSO</text>
<text x="243.75" y="532.8" font-size="8.4" text-anchor="middle" textLength="19.1" lengthAdjust="spacingAndGlyphs" fill="#231f20" >ATRA</text>
<text x="296.85" y="532.8" font-size="8.4" text-anchor="middle" textLength="23.7" lengthAdjust="spacingAndGlyphs" fill="#231f20" >DMSO</text>
<text x="322.4" y="532.8" font-size="8.4" text-anchor="middle" textLength="20.2" lengthAdjust="spacingAndGlyphs" fill="#231f20" >ATRA</text>
<line x1="207.7" y1="535.5" x2="252" y2="535.5" stroke="#333" stroke-width="1.25" />
<line x1="288.3" y1="535.5" x2="332" y2="535.5" stroke="#333" stroke-width="1.25" />
<text x="230" y="544.5" font-size="8.5" text-anchor="middle" textLength="21.7" lengthAdjust="spacingAndGlyphs" fill="#231f20" >ARP-1</text>
<text x="309.6" y="544.5" font-size="8.5" text-anchor="middle" textLength="25.5" lengthAdjust="spacingAndGlyphs" fill="#231f20" >MM.1S</text>
<line x1="211.5" y1="447.7" x2="240.5" y2="447.7" stroke="#333" stroke-width="1.25" />
<circle cx="224.15" cy="444.7" r="0.95" fill="#231f20"/><path d="M224.15 443.25L224.15 446.15M225.41 443.97L222.89 445.43M225.41 445.43L222.89 443.97" stroke="#231f20" stroke-width="0.8" fill="none"/>
<circle cx="227.85" cy="444.7" r="0.95" fill="#231f20"/><path d="M227.85 443.25L227.85 446.15M229.11 443.97L226.59 445.43M229.11 445.43L226.59 443.97" stroke="#231f20" stroke-width="0.8" fill="none"/>
<line x1="237" y1="457" x2="252" y2="457" stroke="#333" stroke-width="1.25" />
<circle cx="240.8" cy="454" r="0.95" fill="#231f20"/><path d="M240.8 452.55L240.8 455.45M242.06 453.27L239.54 454.73M242.06 454.73L239.54 453.27" stroke="#231f20" stroke-width="0.8" fill="none"/>
<circle cx="244.5" cy="454" r="0.95" fill="#231f20"/><path d="M244.5 452.55L244.5 455.45M245.76 453.27L243.24 454.73M245.76 454.73L243.24 453.27" stroke="#231f20" stroke-width="0.8" fill="none"/>
<circle cx="248.2" cy="454" r="0.95" fill="#231f20"/><path d="M248.2 452.55L248.2 455.45M249.46 453.27L246.94 454.73M249.46 454.73L246.94 453.27" stroke="#231f20" stroke-width="0.8" fill="none"/>
<line x1="291" y1="465.5" x2="319.7" y2="465.5" stroke="#333" stroke-width="1.25" />
<circle cx="303.5" cy="462.5" r="0.95" fill="#231f20"/><path d="M303.5 461.05L303.5 463.95M304.76 461.77L302.24 463.23M304.76 463.23L302.24 461.77" stroke="#231f20" stroke-width="0.8" fill="none"/>
<circle cx="307.2" cy="462.5" r="0.95" fill="#231f20"/><path d="M307.2 461.05L307.2 463.95M308.46 461.77L305.94 463.23M308.46 463.23L305.94 461.77" stroke="#231f20" stroke-width="0.8" fill="none"/>
<line x1="316.1" y1="474.8" x2="330.6" y2="474.8" stroke="#333" stroke-width="1.25" />
<circle cx="319.65" cy="471.8" r="0.95" fill="#231f20"/><path d="M319.65 470.35L319.65 473.25M320.91 471.07L318.39 472.53M320.91 472.53L318.39 471.07" stroke="#231f20" stroke-width="0.8" fill="none"/>
<circle cx="323.35" cy="471.8" r="0.95" fill="#231f20"/><path d="M323.35 470.35L323.35 473.25M324.61 471.07L322.09 472.53M324.61 472.53L322.09 471.07" stroke="#231f20" stroke-width="0.8" fill="none"/>
<circle cx="327.05" cy="471.8" r="0.95" fill="#231f20"/><path d="M327.05 470.35L327.05 473.25M328.31 471.07L325.79 472.53M328.31 472.53L325.79 471.07" stroke="#231f20" stroke-width="0.8" fill="none"/>
<rect x="224.5" y="551.9" width="7.9" height="5" fill="#c8143a" />
<text x="235.6" y="557.1" font-size="8.5" textLength="24.6" lengthAdjust="spacingAndGlyphs" fill="#231f20" >Ctrl-KD</text>
<rect x="277.9" y="551.9" width="7.3" height="5" fill="#0f4c84" />
<text x="288.3" y="557.1" font-size="8.5" textLength="30" lengthAdjust="spacingAndGlyphs" fill="#231f20" >RARγ-KD</text>
<text transform="translate(352.21,428.60) scale(1.021,1)" font-size="11.5" font-weight="bold" fill="#000" style="stroke:#000;stroke-width:0.25px">H</text>
<text x="379" y="439.8" font-size="8.2" textLength="23.8" lengthAdjust="spacingAndGlyphs" fill="#231f20" >DMSO</text>
<line x1="362.5" y1="441.7" x2="419.7" y2="441.7" stroke="#5e5e5e" stroke-width="1.5" />
<text x="448.5" y="439.8" font-size="8.2" textLength="19.5" lengthAdjust="spacingAndGlyphs" fill="#231f20" >ATRA</text>
<line x1="430" y1="441.7" x2="486.9" y2="441.7" stroke="#5e5e5e" stroke-width="1.5" />
<text x="363" y="452.9" font-size="8.2" textLength="21.3" lengthAdjust="spacingAndGlyphs" fill="#231f20" >ARP-1</text>
<line x1="359.5" y1="455.3" x2="387.7" y2="455.3" stroke="#5e5e5e" stroke-width="1.5" />
<text x="395" y="452.9" font-size="8.2" textLength="25.1" lengthAdjust="spacingAndGlyphs" fill="#231f20" >MM.1S</text>
<line x1="392.9" y1="455.3" x2="421.3" y2="455.3" stroke="#5e5e5e" stroke-width="1.5" />
<text x="430" y="452.9" font-size="8.2" textLength="21.2" lengthAdjust="spacingAndGlyphs" fill="#231f20" >ARP-1</text>
<line x1="426.7" y1="455.3" x2="455.6" y2="455.3" stroke="#5e5e5e" stroke-width="1.5" />
<text x="461.9" y="452.9" font-size="8.2" textLength="25.4" lengthAdjust="spacingAndGlyphs" fill="#231f20" >MM.1S</text>
<line x1="460" y1="455.3" x2="488.8" y2="455.3" stroke="#5e5e5e" stroke-width="1.5" />
<text transform="translate(371.5,494.7) rotate(-90)" font-size="7.5" textLength="25.1" lengthAdjust="spacingAndGlyphs" fill="#231f20" >Ctrl-KD</text>
<text transform="translate(386.4,494.7) rotate(-90)" font-size="7.5" textLength="31.1" lengthAdjust="spacingAndGlyphs" fill="#231f20" >RARγ-KD</text>
<text transform="translate(401.4,494.7) rotate(-90)" font-size="7.5" textLength="25.1" lengthAdjust="spacingAndGlyphs" fill="#231f20" >Ctrl-KD</text>
<text transform="translate(416.1,494.7) rotate(-90)" font-size="7.5" textLength="31.1" lengthAdjust="spacingAndGlyphs" fill="#231f20" >RARγ-KD</text>
<text transform="translate(438.4,494.7) rotate(-90)" font-size="7.5" textLength="25.1" lengthAdjust="spacingAndGlyphs" fill="#231f20" >Ctrl-KD</text>
<text transform="translate(452.9,494.7) rotate(-90)" font-size="7.5" textLength="31.1" lengthAdjust="spacingAndGlyphs" fill="#231f20" >RARγ-KD</text>
<text transform="translate(468.3,494.7) rotate(-90)" font-size="7.5" textLength="25.1" lengthAdjust="spacingAndGlyphs" fill="#231f20" >Ctrl-KD</text>
<text transform="translate(482.7,494.7) rotate(-90)" font-size="7.5" textLength="31.1" lengthAdjust="spacingAndGlyphs" fill="#231f20" >RARγ-KD</text>
<clipPath id="c544"><rect x="362" y="497" width="60" height="11"/></clipPath>
<rect x="362" y="497" width="60" height="11" fill="url(#gH)"/>
<g clip-path="url(#c544)">
<rect x="366.1" y="501.8" width="10" height="2.2" rx="1.1" ry="1.1" fill="#000" fill-opacity="0.38" filter="url(#bl2)"/>
<rect x="393.7" y="501.1" width="10" height="2.6" rx="1.3" ry="1.3" fill="#000" fill-opacity="0.6" filter="url(#bl2)"/>
</g>
<rect x="363.65" y="498.65" width="56.7" height="7.7" fill="none" stroke="#fff" stroke-opacity="0.55" stroke-width="0.8"/>
<rect x="362.62" y="497.62" width="58.75" height="9.75" fill="none" stroke="#1a1a1a" stroke-width="1.25"/>
<clipPath id="c552"><rect x="362" y="511" width="60" height="11"/></clipPath>
<rect x="362" y="511" width="60" height="11" fill="url(#gH)"/>
<g clip-path="url(#c552)">
<rect x="366" y="515.3" width="11" height="2.2" rx="1.1" ry="1.1" fill="#000" fill-opacity="0.32" filter="url(#bl2)"/>
<rect x="380" y="515.7" width="10" height="1.8" rx="0.9" ry="0.9" fill="#000" fill-opacity="0.15" filter="url(#bl2)"/>
<rect x="394" y="515.2" width="11" height="2.6" rx="1.3" ry="1.3" fill="#000" fill-opacity="0.5" filter="url(#bl2)"/>
<rect x="409" y="515.7" width="10" height="1.8" rx="0.9" ry="0.9" fill="#000" fill-opacity="0.22" filter="url(#bl2)"/>
</g>
<rect x="363.65" y="512.65" width="56.7" height="7.7" fill="none" stroke="#fff" stroke-opacity="0.55" stroke-width="0.8"/>
<rect x="362.62" y="511.62" width="58.75" height="9.75" fill="none" stroke="#1a1a1a" stroke-width="1.25"/>
<clipPath id="c562"><rect x="362" y="524" width="60" height="11"/></clipPath>
<rect x="362" y="524" width="60" height="11" fill="url(#gH)"/>
<g clip-path="url(#c562)">
<rect x="364.85" y="528.5" width="10.5" height="3" rx="1.5" ry="1.5" fill="#000" fill-opacity="1.0" filter="url(#bl2)"/>
<rect x="379" y="528.4" width="11.2" height="3" rx="1.5" ry="1.5" fill="#000" fill-opacity="1.0" filter="url(#bl2)"/>
<rect x="393.8" y="527.9" width="12" height="3.6" rx="1.8" ry="1.8" fill="#000" fill-opacity="1.0" filter="url(#bl2)"/>
<rect x="409.15" y="527.4" width="11.1" height="3" rx="1.5" ry="1.5" fill="#000" fill-opacity="1.0" filter="url(#bl2)"/>
</g>
<rect x="363.65" y="525.65" width="56.7" height="7.7" fill="none" stroke="#fff" stroke-opacity="0.55" stroke-width="0.8"/>
<rect x="362.62" y="524.62" width="58.75" height="9.75" fill="none" stroke="#1a1a1a" stroke-width="1.25"/>
<clipPath id="c572"><rect x="429" y="497" width="60" height="11"/></clipPath>
<rect x="429" y="497" width="60" height="11" fill="url(#gH)"/>
<g clip-path="url(#c572)">
<rect x="432.2" y="501.1" width="9.8" height="2.6" rx="1.3" ry="1.3" fill="#000" fill-opacity="0.55" filter="url(#bl2)"/>
<rect x="446.25" y="501.9" width="9.9" height="2" rx="1" ry="1" fill="#000" fill-opacity="0.3" filter="url(#bl2)"/>
<rect x="460.2" y="500.6" width="12" height="4" rx="2" ry="2" fill="#000" fill-opacity="1.0" filter="url(#bl2)"/>
<rect x="475.2" y="501.7" width="11.8" height="2.6" rx="1.3" ry="1.3" fill="#000" fill-opacity="0.7" filter="url(#bl2)"/>
</g>
<rect x="430.65" y="498.65" width="56.7" height="7.7" fill="none" stroke="#fff" stroke-opacity="0.55" stroke-width="0.8"/>
<rect x="429.62" y="497.62" width="58.75" height="9.75" fill="none" stroke="#1a1a1a" stroke-width="1.25"/>
<clipPath id="c582"><rect x="429" y="511" width="60" height="11"/></clipPath>
<rect x="429" y="511" width="60" height="11" fill="url(#gH)"/>
<g clip-path="url(#c582)">
<rect x="431.45" y="515.2" width="10.3" height="2.6" rx="1.3" ry="1.3" fill="#000" fill-opacity="0.95" filter="url(#bl2)"/>
<rect x="446.25" y="516.1" width="9.9" height="1.8" rx="0.9" ry="0.9" fill="#000" fill-opacity="0.8" filter="url(#bl2)"/>
<rect x="461" y="514.7" width="11.2" height="3.6" rx="1.8" ry="1.8" fill="#000" fill-opacity="1.0" filter="url(#bl2)"/>
<rect x="476.65" y="514.7" width="10.3" height="2.6" rx="1.3" ry="1.3" fill="#000" fill-opacity="0.95" filter="url(#bl2)"/>
</g>
<rect x="430.65" y="512.65" width="56.7" height="7.7" fill="none" stroke="#fff" stroke-opacity="0.55" stroke-width="0.8"/>
<rect x="429.62" y="511.62" width="58.75" height="9.75" fill="none" stroke="#1a1a1a" stroke-width="1.25"/>
<clipPath id="c592"><rect x="429" y="524" width="60" height="11"/></clipPath>
<rect x="429" y="524" width="60" height="11" fill="url(#gH)"/>
<g clip-path="url(#c592)">
<rect x="429.75" y="528.2" width="12.9" height="3" rx="1.5" ry="1.5" fill="#000" fill-opacity="1.0" filter="url(#bl2)"/>
<rect x="445.4" y="528.7" width="11.4" height="2.6" rx="1.3" ry="1.3" fill="#000" fill-opacity="1.0" filter="url(#bl2)"/>
<rect x="459.8" y="528" width="12.4" height="4" rx="2" ry="2" fill="#000" fill-opacity="1.0" filter="url(#bl2)"/>
<rect x="474" y="528" width="13" height="3.6" rx="1.8" ry="1.8" fill="#000" fill-opacity="1.0" filter="url(#bl2)"/>
</g>
<rect x="430.65" y="525.65" width="56.7" height="7.7" fill="none" stroke="#fff" stroke-opacity="0.55" stroke-width="0.8"/>
<rect x="429.62" y="524.62" width="58.75" height="9.75" fill="none" stroke="#1a1a1a" stroke-width="1.25"/>
<text x="491.5" y="505.6" font-size="8.5" textLength="15" lengthAdjust="spacingAndGlyphs" fill="#231f20" >IRF1</text>
<text x="491.5" y="519.1" font-size="8.5" textLength="19.8" lengthAdjust="spacingAndGlyphs" fill="#231f20" >OAS1</text>
<text x="491.5" y="532.3" font-size="8.5" textLength="18.5" lengthAdjust="spacingAndGlyphs" fill="#231f20" >Actin</text>
<text transform="translate(421.6,267.27) scale(0.0978,0.0325)" font-size="100" font-weight="700" fill="#f5a623" style="stroke:none;stroke-width:0.00px">G</text>
<text transform="translate(421.76,269.4) scale(0.0984,0.0305)" font-size="100" font-weight="700" fill="#1f9e48" style="stroke:none;stroke-width:0.00px">A</text>
<text transform="translate(422.14,270.58) scale(0.0872,0.0169)" font-size="100" font-weight="700" fill="#2a5fb0" style="stroke:none;stroke-width:0.00px">C</text>
<text transform="translate(429.02,269.8) scale(0.1118,0.2297)" font-size="100" font-weight="400" fill="#1f9e48" style="stroke:#1f9e48;stroke-width:1.97px">A</text>
<text transform="translate(436.13,269.8) scale(0.1073,0.2297)" font-size="100" font-weight="400" fill="#1f9e48" style="stroke:#1f9e48;stroke-width:2.05px">A</text>
<text transform="translate(442.76,269.8) scale(0.0954,0.2747)" font-size="100" font-weight="400" fill="#1f9e48" style="stroke:#1f9e48;stroke-width:2.31px">A</text>
<text transform="translate(448.92,267.97) scale(0.0919,0.0339)" font-size="100" font-weight="700" fill="#f5a623" style="stroke:none;stroke-width:0.00px">G</text>
<text transform="translate(449.07,270) scale(0.0924,0.0291)" font-size="100" font-weight="700" fill="#1f9e48" style="stroke:none;stroke-width:0.00px">A</text>
<text transform="translate(455.39,265.23) scale(0.0749,0.0706)" font-size="100" font-weight="400" fill="#2a5fb0" style="stroke:#2a5fb0;stroke-width:2.94px">C</text>
<text transform="translate(455.61,269.8) scale(0.0832,0.0654)" font-size="100" font-weight="700" fill="#e3262c" style="stroke:none;stroke-width:0.00px">T</text>
<text transform="translate(462.22,269.62) scale(0.0919,0.1879)" font-size="100" font-weight="400" fill="#f5a623" style="stroke:#f5a623;stroke-width:2.39px">G</text>
<text transform="translate(468.82,269.8) scale(0.1133,0.2718)" font-size="100" font-weight="400" fill="#1f9e48" style="stroke:#1f9e48;stroke-width:1.94px">A</text>
<text transform="translate(475.97,269.8) scale(0.0939,0.2544)" font-size="100" font-weight="400" fill="#1f9e48" style="stroke:#1f9e48;stroke-width:2.34px">A</text>
<text transform="translate(481.53,269.8) scale(0.1073,0.2718)" font-size="100" font-weight="400" fill="#1f9e48" style="stroke:#1f9e48;stroke-width:2.05px">A</text>
<text transform="translate(488.56,267.22) scale(0.1071,0.0819)" font-size="100" font-weight="400" fill="#2a5fb0" style="stroke:#2a5fb0;stroke-width:2.05px">C</text>
<text transform="translate(489.14,269.17) scale(0.0889,0.0268)" font-size="100" font-weight="700" fill="#f5a623" style="stroke:none;stroke-width:0.00px">G</text>
<text transform="translate(489.28,270.4) scale(0.0894,0.0174)" font-size="100" font-weight="700" fill="#1f9e48" style="stroke:none;stroke-width:0.00px">A</text>
<text transform="translate(495.58,268.24) scale(0.1025,0.0621)" font-size="100" font-weight="400" fill="#2a5fb0" style="stroke:#2a5fb0;stroke-width:2.15px">C</text>
<text transform="translate(496.39,270.2) scale(0.0968,0.0276)" font-size="100" font-weight="700" fill="#e3262c" style="stroke:none;stroke-width:0.00px">T</text>
<rect x="0.5" y="0.5" width="519" height="563" fill="none" stroke="#000" stroke-width="1"/>
</svg>
</body></html>
